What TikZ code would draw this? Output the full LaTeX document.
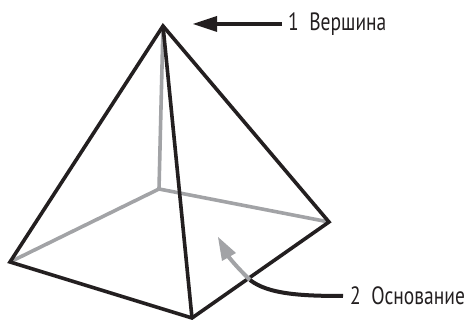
\documentclass[tikz,border=0pt]{standalone}
\usepackage{fontspec}
\setmainfont[FakeStretch=0.78]{PT Sans}
\tikzset{
  front/.style={draw=edgeblack,line width=3.6pt,line join=miter,line cap=round},
  back/.style={draw=edgegray,line width=3.6pt,line cap=round},
  lab/.style={anchor=west,inner sep=0pt,text=edgeblack,font=\fontsize{25}{28}\selectfont},
}
\definecolor{edgeblack}{HTML}{231F20}
\definecolor{edgegray}{HTML}{A2A3A6}
\begin{document}
\begin{tikzpicture}[x=1pt,y=-1pt]
\useasboundingbox (0,0) rectangle (467,320);
\coordinate (A) at (163,26);
\coordinate (L) at (10,262);
\coordinate (B) at (192,318);
\coordinate (R) at (329,222);
\coordinate (K) at (159,189);
\coordinate (T1) at (193,24);
\coordinate (H1) at (217,24);
\coordinate (T2) at (218,237);
\coordinate (H2) at (228,256);
\coordinate (X2) at (250,280);
\draw[back] (A) -- (K) (L) -- (K) -- (R);
\draw[front] (A) -- (L) -- (B) -- (R) -- cycle;
\draw[front] (A) -- (B);
\node[lab] (n1) at (288,24) {1\hspace{0.42em}Вершина};
\node[lab] (n2) at (350,296) {2\hspace{0.42em}Основание};
\draw[edgeblack,line width=4pt] (n1.west) ++(-6,0) coordinate (S1) -- (H1);
\fill[edgeblack] (T1) -- (217,16) -- (217,32) -- cycle;
\draw[edgegray,line width=4pt] (X2) .. controls (243,273) and (235,265) .. (H2);
\fill[edgegray] (T2) -- (222,261) -- (236,253) -- cycle;
\draw[edgeblack,line width=4pt] (n2.west) ++(-7,0) coordinate (S2) .. controls (300,296) and (268,294) .. (X2);
\end{tikzpicture}
\end{document}
